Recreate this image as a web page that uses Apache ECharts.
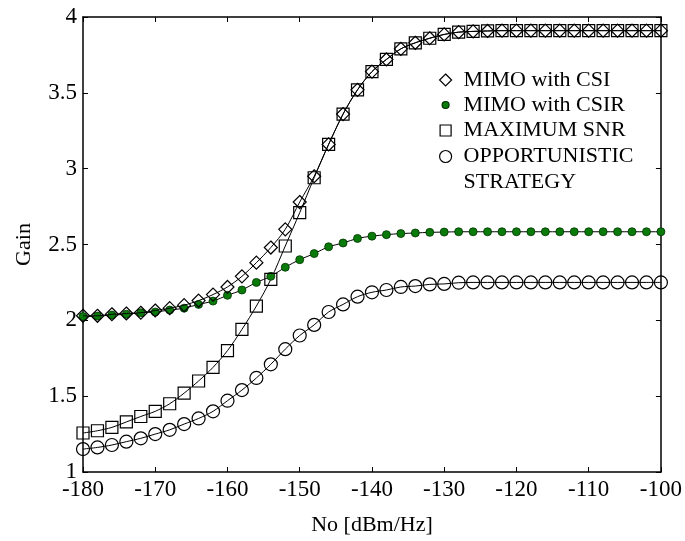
<!DOCTYPE html>
<html>
<head>
<meta charset="utf-8">
<script src="https://cdn.jsdelivr.net/npm/echarts@6/dist/echarts.min.js"></script>
<style>
  html, body { margin: 0; padding: 0; background: #fff; }
  #chart { width: 685px; height: 541px; }
</style>
</head>
<body>
<div id="chart"></div>
<script>
// noise level (dBm/Hz), one point every 2 dB
const noise = [-180,-178,-176,-174,-172,-170,-168,-166,-164,-162,-160,-158,-156,-154,-152,-150,-148,-146,-144,-142,
    -140,-138,-136,-134,-132,-130,-128,-126,-124,-122,-120,-118,-116,-114,-112,-110,-108,-106,-104,-102,-100];

const mimoCSI = [2.03,2.03,2.04,2.045,2.05,2.065,2.08,2.10,2.13,2.17,2.22,2.29,2.38,2.48,2.60,2.78,2.95,3.16,3.36,3.52,
    3.64,3.72,3.79,3.83,3.86,3.885,3.90,3.905,3.908,3.91,3.91,3.91,3.91,3.91,3.91,3.91,3.91,3.91,3.91,3.91,3.91];
const mimoCSIR = [2.025,2.028,2.035,2.04,2.05,2.055,2.068,2.08,2.105,2.127,2.165,2.20,2.25,2.29,2.35,2.40,2.44,2.485,2.51,2.54,
    2.555,2.565,2.572,2.576,2.58,2.582,2.584,2.584,2.584,2.584,2.584,2.584,2.584,2.584,2.584,2.584,2.584,2.584,2.584,2.584,2.584];
const maxSNR = [1.257,1.272,1.294,1.33,1.366,1.40,1.45,1.52,1.60,1.69,1.80,1.94,2.094,2.27,2.49,2.71,2.94,3.16,3.36,3.52,
    3.64,3.72,3.79,3.83,3.86,3.885,3.90,3.905,3.908,3.91,3.91,3.91,3.91,3.91,3.91,3.91,3.91,3.91,3.91,3.91,3.91];
const opportunistic = [1.151,1.162,1.178,1.20,1.222,1.25,1.278,1.316,1.353,1.40,1.47,1.54,1.62,1.71,1.81,1.90,1.97,2.055,2.105,2.156,
    2.185,2.20,2.22,2.226,2.237,2.24,2.248,2.25,2.25,2.25,2.25,2.25,2.25,2.25,2.25,2.25,2.25,2.25,2.25,2.25,2.25];

const xTicks = { min: -180, max: -100, interval: 10 };
const yTicks = { min: 1, max: 4, interval: 0.5 };

const FONT = '"Liberation Serif", "DejaVu Serif", serif';
const pairs = ys => noise.map((x, i) => [x, ys[i]]);

const chart = echarts.init(document.getElementById('chart'));

function axisX(pos, showLabel) {
    return {
        type: 'value', position: pos, min: xTicks.min, max: xTicks.max, interval: xTicks.interval,
        name: showLabel ? 'No [dBm/Hz]' : '', nameLocation: 'middle', nameGap: 42,
        nameTextStyle: { fontFamily: FONT, fontSize: 22, color: '#000' },
        axisLine: { show: true, onZero: false, lineStyle: { color: '#000', width: 1.5 } },
        axisTick: { show: true, inside: true, length: 5, lineStyle: { color: '#000', width: 1 } },
        axisLabel: { show: showLabel, fontFamily: FONT, fontSize: 23, color: '#000', margin: 6 },
        splitLine: { show: false }
    };
}
function axisY(pos, showLabel) {
    return {
        type: 'value', position: pos, min: yTicks.min, max: yTicks.max, interval: yTicks.interval,
        name: showLabel ? 'Gain' : '', nameLocation: 'middle', nameGap: 48,
        nameTextStyle: { fontFamily: FONT, fontSize: 22, color: '#000' },
        axisLine: { show: true, onZero: false, lineStyle: { color: '#000', width: 1.5 } },
        axisTick: { show: true, inside: true, length: 5, lineStyle: { color: '#000', width: 1 } },
        axisLabel: { show: showLabel, fontFamily: FONT, fontSize: 23, color: '#000', margin: 6 },
        splitLine: { show: false }
    };
}

const line = { color: '#000', width: 1 };
const hollow = { color: 'transparent', borderColor: '#000', borderWidth: 1.2 };

// legend: one per entry so each icon keeps its own size; icon centre at x=445, text starts at x=463
const LEG_X = 445, TEXT_X = 463;
function legendFor(name, icon, size, centerY, lines, lh) {
    const pad = TEXT_X - LEG_X - size / 2 - 5;
    const row = t => '{s|}{t|' + t + '}';
    return {
        data: [{ name: name, icon: icon }],
        orient: 'vertical', left: LEG_X - size / 2, top: centerY - lines.length * lh / 2, padding: 0,
        itemWidth: size, itemHeight: size,
        itemStyle: { borderWidth: 1.2 },
        formatter: () => lines.map(row).join('\n'),
        textStyle: {
            rich: {
                s: { width: pad },
                t: { fontFamily: FONT, fontSize: 22, color: '#000', lineHeight: lh }
            }
        }
    };
}

chart.setOption({
    animation: false,
    backgroundColor: '#fff',
    grid: { left: 83, right: 22, top: 17, bottom: 67 },
    xAxis: [axisX('bottom', true), axisX('top', false)],
    yAxis: [axisY('left', true), axisY('right', false)],
    legend: [
        legendFor('MIMO with CSI', 'diamond', 12, 82, ['MIMO with CSI'], 26),
        legendFor('MIMO with CSIR', 'circle', 7, 107, ['MIMO with CSIR'], 26),
        legendFor('MAXIMUM SNR', 'rect', 11, 132.5, ['MAXIMUM SNR'], 26),
        legendFor('OPPORTUNISTIC STRATEGY', 'circle', 12, 158.5, [' ', 'OPPORTUNISTIC', 'STRATEGY'], 26)
    ],
    series: [
        { name: 'MIMO with CSI', type: 'line', data: pairs(mimoCSI), smooth: 0.3,
          symbol: 'diamond', symbolSize: 13, lineStyle: line, itemStyle: hollow, z: 4 },
        { name: 'MIMO with CSIR', type: 'line', data: pairs(mimoCSIR), smooth: 0.3,
          symbol: 'circle', symbolSize: 8, lineStyle: line,
          itemStyle: { color: '#0a7a0a', borderColor: '#003300', borderWidth: 0.8 }, z: 3 },
        { name: 'MAXIMUM SNR', type: 'line', data: pairs(maxSNR), smooth: 0.3,
          symbol: 'rect', symbolSize: 12, lineStyle: line, itemStyle: hollow, z: 3 },
        { name: 'OPPORTUNISTIC STRATEGY', type: 'line', data: pairs(opportunistic), smooth: 0.3,
          symbol: 'circle', symbolSize: 13, lineStyle: line, itemStyle: hollow, z: 2 }
    ]
});
</script>
</body>
</html>
